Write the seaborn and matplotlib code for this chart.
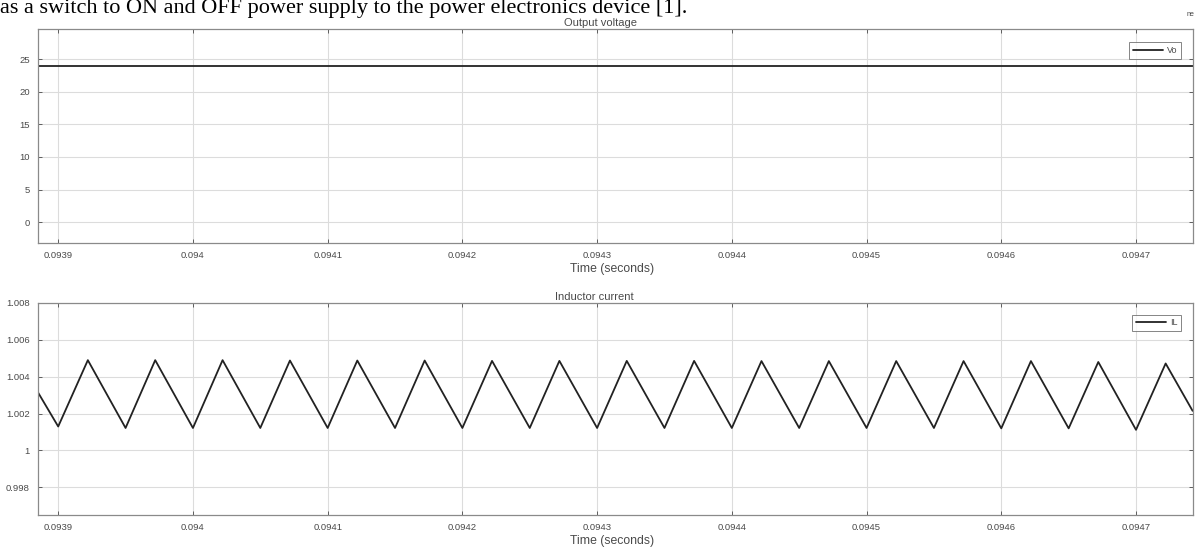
import matplotlib
matplotlib.use("Agg")
import matplotlib.pyplot as plt
import seaborn as sns
import pandas as pd

# ---- data ----
vo_time = [0.093885, 0.094742]
vo_value = [24.0, 24.0]

il_time = [0.093885,
           0.093900, 0.093922, 0.093950, 0.093972, 0.094000, 0.094022,
           0.094050, 0.094072, 0.094100, 0.094122, 0.094150, 0.094172,
           0.094200, 0.094222, 0.094250, 0.094272, 0.094300, 0.094322,
           0.094350, 0.094372, 0.094400, 0.094422, 0.094450, 0.094472,
           0.094500, 0.094522, 0.094550, 0.094572, 0.094600, 0.094622,
           0.094650, 0.094672, 0.094700, 0.094722,
           0.094742]
il_value = [1.00315,
            1.00130, 1.00490, 1.00122, 1.00490, 1.00122, 1.00490,
            1.00122, 1.00488, 1.00122, 1.00488, 1.00122, 1.00488,
            1.00122, 1.00486, 1.00122, 1.00486, 1.00122, 1.00486,
            1.00122, 1.00486, 1.00122, 1.00485, 1.00122, 1.00485,
            1.00122, 1.00485, 1.00122, 1.00485, 1.00120, 1.00485,
            1.00120, 1.00480, 1.00112, 1.00472,
            1.00215]

x_ticks = [0.0939, 0.0940, 0.0941, 0.0942, 0.0943, 0.0944, 0.0945, 0.0946, 0.0947]
x_tick_labels = ["0.0939", "0.094", "0.0941", "0.0942", "0.0943", "0.0944", "0.0945", "0.0946", "0.0947"]
vo_ticks = [0, 5, 10, 15, 20, 25]
il_ticks = [0.998, 1.0, 1.002, 1.004, 1.006, 1.008]
il_tick_labels = ["0.998", "1", "1.002", "1.004", "1.006", "1.008"]

sns.set_theme(style="white")
plt.rcParams['font.family'] = ['Liberation Sans', 'DejaVu Sans']

W, H = 1203, 549
fig = plt.figure(figsize=(W / 100, H / 100), dpi=100)

def px_axes(l, t, r, b):
    return fig.add_axes([l / W, 1 - b / H, (r - l) / W, (b - t) / H])

ax1 = px_axes(38, 29, 1193, 243)
ax2 = px_axes(38, 303, 1193, 515)

text_col = "#4a4a4a"
grid_col = "#dcdcdc"
spine_col = "#8a8a8a"
line_col = "#222222"

df_vo = pd.DataFrame({"t": vo_time, "v": vo_value})
df_il = pd.DataFrame({"t": il_time, "v": il_value})

sns.lineplot(data=df_vo, x="t", y="v", ax=ax1, color=line_col, lw=1.3,
             sort=False, estimator=None, label="Vo")
sns.lineplot(data=df_il, x="t", y="v", ax=ax2, color=line_col, lw=1.3,
             sort=False, estimator=None, label="IL")

for ax, title, title_x, leg_y in [(ax1, "Output voltage", 0.487, 0.959),
                                  (ax2, "Inductor current", 0.482, 0.967)]:
    ax.set_xlim(0.093885, 0.0947423)
    ax.set_xticks(x_ticks)
    ax.set_xticklabels(x_tick_labels)
    ax.grid(True, color=grid_col, lw=0.8)
    ax.set_axisbelow(True)
    for s in ax.spines.values():
        s.set_color(spine_col)
        s.set_linewidth(0.9)
    ax.tick_params(axis="both", labelsize=6.8, colors=text_col, length=3,
                   direction="in", width=0.6, pad=6)
    ax.tick_params(axis="both", which="both", top=True, right=True, bottom=True, left=True)
    ax.set_title(title, fontsize=8, color=text_col, pad=2, x=title_x)
    ax.set_xlabel("Time (seconds)", fontsize=8.8, color=text_col, labelpad=3)
    ax.xaxis.set_label_coords(0.497, -0.095)
    ax.set_ylabel("")
    leg = ax.legend(loc="upper right", fontsize=6.5, frameon=True, fancybox=False,
                    handlelength=3.4, handletextpad=0.4, borderpad=0.4,
                    bbox_to_anchor=(0.9935, leg_y))
    leg.get_frame().set_edgecolor("#666666")
    leg.get_frame().set_linewidth(0.7)
    for txt in leg.get_texts():
        txt.set_color(text_col)

ax1.set_ylim(-3.2, 29.6)
ax1.set_yticks(vo_ticks)
ax2.set_ylim(0.9965, 1.008)
ax2.set_yticks(il_ticks)
ax2.set_yticklabels(il_tick_labels)

fig.text(0.0, 1 - 12.5 / H, "as a switch to ON and OFF power supply to the power electronics device [1].",
         family="Liberation Serif", fontsize=16, color="black", ha="left", va="baseline")
fig.text(1187 / W, 1 - 16 / H, "ne", fontsize=5, color="#444444", ha="left", va="baseline")

fig.savefig("out.png", dpi=100)
